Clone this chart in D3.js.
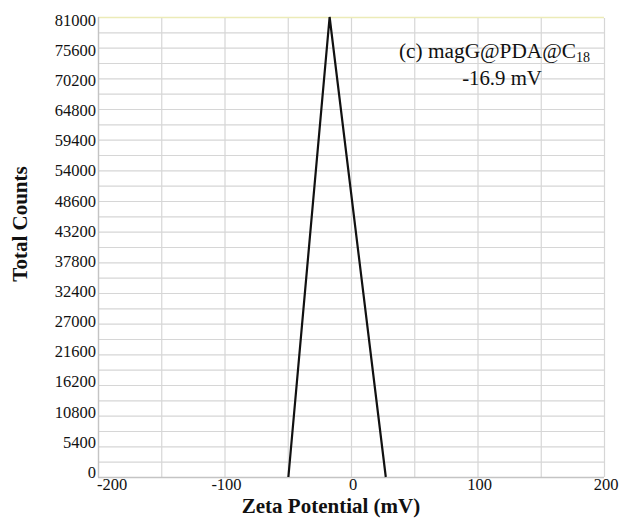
<!DOCTYPE html>
<html>
<head>
<meta charset="utf-8">
<script src="https://cdn.jsdelivr.net/npm/d3@7"></script>
<style>
  html, body { margin: 0; padding: 0; background: #ffffff; }
  svg { display: block; }
  svg text { font-family: "Liberation Serif", "Times New Roman", serif; }
</style>
</head>
<body>
<svg id="chart" width="624" height="520"></svg>
<script>
// ---- data ----
const zeta = [-49.5, -16.9, 27.5];
const counts = [0, 81000, 0];
const xTickValues = [-200, -100, 0, 100, 200];
const xGridValues = [-200, -150, -100, -50, 0, 50, 100, 150, 200];
const yTickValues = [0, 5400, 10800, 16200, 21600, 27000, 32400, 37800, 43200, 48600, 54000, 59400, 64800, 70200, 75600, 81000];
const yGridValues = d3.range(0, 81001, 2700);
const sampleLabel = "(c) magG@PDA@C";
const sampleSub = "18";
const peakLabel = "-16.9 mV";
const xTitle = "Zeta Potential (mV)";
const yTitle = "Total Counts";

// ---- layout ----
const svg = d3.select("#chart");
const plotLeft = 98, plotRight = 604, plotTop = 17, plotBottom = 477;

const x = d3.scaleLinear().domain([-200, 200]).range([plotLeft, plotRight]);
const y = d3.scaleLinear().domain([0, 81000]).range([plotBottom, plotTop]);
// tick labels sit on a slightly compressed copy of the value scale (as in the reference)
const yLabel = d3.scaleLinear().domain([0, 81000]).range([472, 20]);

// grid
svg.append("g").selectAll("line").data(yGridValues).join("line")
  .attr("x1", plotLeft).attr("x2", plotRight)
  .attr("y1", d => y(d) + 0.5).attr("y2", d => y(d) + 0.5)
  .attr("stroke", d => d === 81000 ? "#ecebb8" : "#d6d6d6")
  .attr("stroke-width", d => d === 81000 ? 1.5 : 1.2);

svg.append("g").selectAll("line").data(xGridValues).join("line")
  .attr("x1", d => x(d) + 0.5).attr("x2", d => x(d) + 0.5)
  .attr("y1", y(81000) + 1).attr("y2", plotBottom)
  .attr("stroke", "#d6d6d6").attr("stroke-width", 1.2);

// axes lines
svg.append("line").attr("x1", plotLeft + 0.5).attr("x2", plotLeft + 0.5)
  .attr("y1", plotTop).attr("y2", plotBottom + 0.5).attr("stroke", "#c4c4c4").attr("stroke-width", 1.3);
svg.append("line").attr("x1", plotLeft).attr("x2", plotRight)
  .attr("y1", plotBottom + 0.5).attr("y2", plotBottom + 0.5).attr("stroke", "#c4c4c4").attr("stroke-width", 1.3);

// y tick labels
svg.append("g").selectAll("text").data(yTickValues).join("text")
  .attr("x", plotLeft - 2)
  .attr("y", d => yLabel(d))
  .attr("dy", "0.35em")
  .attr("text-anchor", "end")
  .attr("font-size", 16.5)
  .attr("fill", "#111")
  .text(d => d);

// x tick labels
svg.append("g").selectAll("text").data(xTickValues).join("text")
  .attr("x", (d, i) => i === 0 ? x(d) - 1 : x(d) + 2)
  .attr("y", 490)
  .attr("text-anchor", (d, i) => i === 0 ? "start" : "middle")
  .attr("font-size", 16.5)
  .attr("fill", "#111")
  .text(d => d);

// line
const line = d3.line().x(d => x(d[0])).y(d => y(d[1]));
svg.append("path")
  .datum(zeta.map((z, i) => [z, counts[i]]))
  .attr("d", line)
  .attr("fill", "none")
  .attr("stroke", "#111")
  .attr("stroke-width", 2.2)
  .attr("stroke-linejoin", "miter");

// annotation
const ann = svg.append("text")
  .attr("x", 399).attr("y", 58)
  .attr("font-size", 21.3).attr("fill", "#111");
ann.append("tspan").text(sampleLabel);
ann.append("tspan").attr("font-size", 14).attr("dy", 4).text(sampleSub);

svg.append("text")
  .attr("x", 502).attr("y", 85)
  .attr("text-anchor", "middle")
  .attr("font-size", 20.8).attr("fill", "#111")
  .text(peakLabel);

// axis titles
svg.append("text")
  .attr("x", 331).attr("y", 513)
  .attr("text-anchor", "middle")
  .attr("font-size", 21).attr("font-weight", "bold").attr("fill", "#111")
  .text(xTitle);

svg.append("text")
  .attr("transform", "translate(27,224) rotate(-90)")
  .attr("text-anchor", "middle")
  .attr("font-size", 21).attr("font-weight", "bold").attr("fill", "#111")
  .text(yTitle);
</script>
</body>
</html>
